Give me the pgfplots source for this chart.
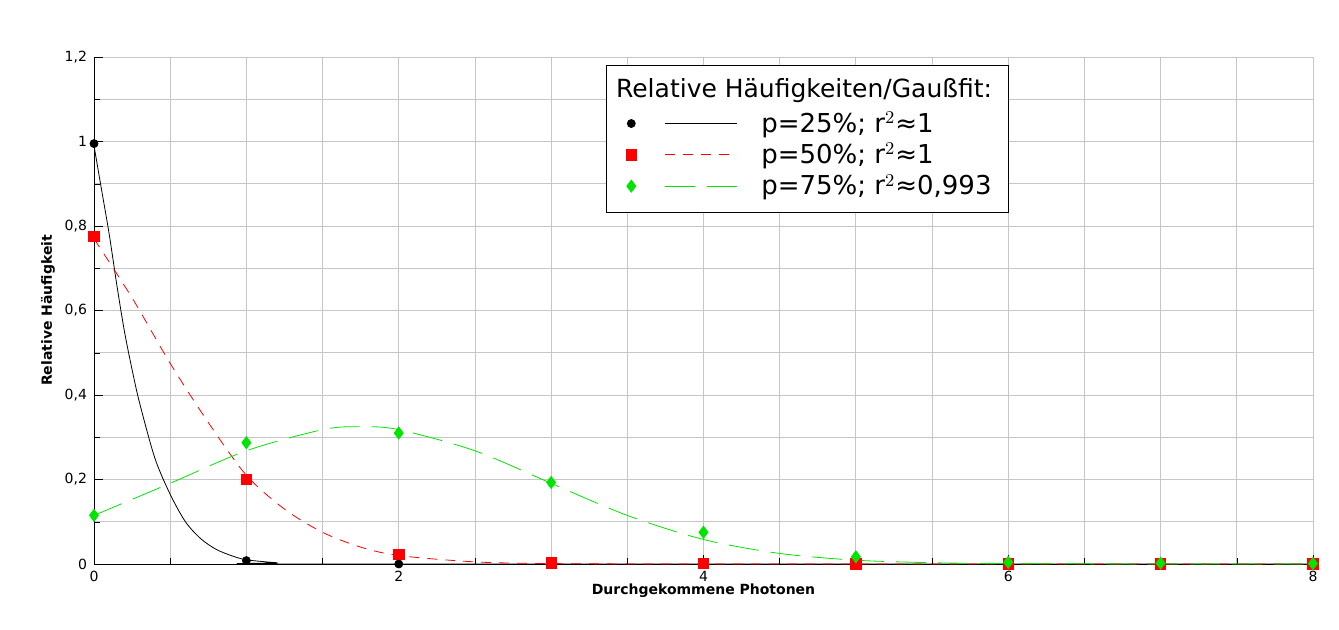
\documentclass[border=0pt]{standalone}
\usepackage{pgfplots}
\pgfplotsset{compat=1.18}
\usepackage{fontspec}
\setmainfont{DejaVu Sans}
\begin{document}
\begin{tikzpicture}
\path (0,0) rectangle (669.5pt,315pt);
\begin{axis}[at={(47pt,33pt)}, anchor=origin, scale only axis, width=609.5pt, height=253.5pt,
 xmin=0, xmax=8, ymin=0, ymax=1.2,
 axis lines=left, axis line style={-}, 
 xtick={0,2,...,8}, minor x tick num=3, ytick={0,0.2,...,1.2}, minor y tick num=1,
 grid=both, major grid style={gray!45}, minor grid style={gray!45},
 tick style={black}, tick align=inside,
 /pgf/number format/assume math mode=true, /pgf/number format/use comma,
 ticklabel style={font=\fontsize{7}{8}\selectfont},
 xlabel={\bfseries Durchgekommene Photonen}, ylabel={\bfseries Relative Häufigkeit},
 label style={font=\fontsize{7}{8}\selectfont},
 xlabel style={yshift=6pt}, ylabel style={yshift=-2pt},
 legend columns=2,
 legend style={at={(axis cs:3.45,1.09)}, anchor=north west, draw=none, fill=none,
   font=\fontsize{13}{15}\selectfont, row sep=0pt,
   /tikz/every odd column/.append style={column sep=10pt}},
 legend cell align=left,
 clip=false]
\addplot[black, thin, smooth, forget plot] coordinates {(0,0.99)(0.05,0.885)(0.1,0.78)(0.15,0.66)(0.2,0.55)(0.25,0.46)(0.3,0.38)(0.4,0.25)(0.5,0.165)(0.6,0.10)(0.7,0.06)(0.8,0.035)(0.9,0.02)(1.0,0.01)(1.2,0.003)(1.4,0)(8,0)};
\addplot[red, thin, smooth, dash pattern=on 5pt off 4pt, forget plot] coordinates {(0,0.77)(0.25,0.63)(0.5,0.475)(0.75,0.335)(1,0.21)(1.25,0.13)(1.5,0.075)(1.75,0.04)(2,0.02)(2.5,0.005)(3,0.001)(4,0)(8,0)};
\addplot[green!90!black, thin, dash pattern=on 15pt off 6pt, smooth, forget plot] coordinates {(0,0.115)(0.5,0.191)(1,0.268)(1.5,0.318)(1.75,0.325)(2,0.318)(2.5,0.268)(3,0.191)(3.5,0.115)(4,0.058)(4.5,0.025)(5,0.009)(5.5,0.003)(6,0.001)(7,0)(8,0)};
\addplot[only marks, mark=*, mark size=2pt, black, forget plot] coordinates {(0,0.995)(1,0.008)(2,0)(3,0)(4,0)(5,0)(6,0)(7,0)(8,0)};
\addplot[only marks, mark=square*, mark size=2.6pt, red, forget plot] coordinates {(0,0.775)(1,0.2)(2,0.022)(3,0.003)(4,0.001)(5,0)(6,0)(7,0)(8,0)};
\addplot[only marks, mark=diamond*, mark size=3pt, green!90!black, forget plot] coordinates {(0,0.115)(1,0.287)(2,0.31)(3,0.193)(4,0.075)(5,0.017)(6,0.004)(7,0.002)(8,0.001)};
\draw[black, fill=white] (axis cs:3.36,0.833) rectangle (axis cs:6.0,1.179);
\node[anchor=west, font=\fontsize{12.5}{14}\selectfont] at (axis cs:3.38,1.12) {Relative Häufigkeiten/Gaußfit:};
\addlegendimage{only marks, mark=*, mark size=2pt, black}\addlegendentry{}
\addlegendimage{legend image code/.code={\draw[black] (0pt,0pt) -- (36pt,0pt);}}\addlegendentry{p=25\%; r$^2$≈1}
\addlegendimage{only marks, mark=square*, mark size=2.6pt, red}\addlegendentry{}
\addlegendimage{legend image code/.code={\draw[red, dash pattern=on 5pt off 4pt] (0pt,0pt) -- (36pt,0pt);}}\addlegendentry{p=50\%; r$^2$≈1}
\addlegendimage{only marks, mark=diamond*, mark size=3pt, green!90!black}\addlegendentry{}
\addlegendimage{legend image code/.code={\draw[green!90!black, dash pattern=on 15pt off 6pt] (0pt,0pt) -- (36pt,0pt);}}\addlegendentry{p=75\%; r$^2$≈0,993}
\end{axis}
\end{tikzpicture}
\end{document}
